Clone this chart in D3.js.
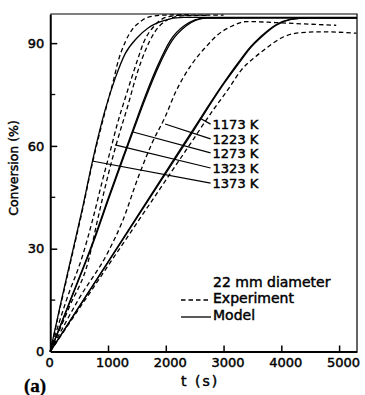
<!DOCTYPE html>
<html>
<head>
<meta charset="utf-8">
<script src="https://cdn.jsdelivr.net/npm/d3@7"></script>
<style>
  body { margin: 0; background: #fff; }
  svg text { font-family: "DejaVu Sans", sans-serif; fill: #000; stroke: #000; stroke-width: 0.45px; }
</style>
</head>
<body>
<div id="chart"></div>
<script>
// conversion (%) vs time (s)
const model1373 = [[0,0],[180,14],[350,26.5],[560,42],[730,55.5],[950,70.5],[1130,80],[1300,87],[1500,91.5],[1700,94.5],[1950,96.5],[2300,97.5],[5310,97.5]];
const exp1373   = [[0,0],[180,13.5],[350,26],[560,41.5],[730,55],[950,70],[1100,79.5],[1164,84],[1302,90.5],[1420,94],[1526,95.8],[1700,97.6],[2000,98.2],[2400,98.3]];
const model1323 = [[0,0],[400,17.3],[750,32.5],[1000,44.6],[1270,57.3],[1440,65.2],[1650,74.8],[1870,83.8],[2080,90.8],[2330,95.2],[2680,97.3],[5310,97.4]];
const exp1323   = [[0,0],[280,15],[560,28],[733,38.4],[905,50],[1043,58.8],[1164,66.6],[1302,74.2],[1509,85],[1612,90],[1800,95],[2000,97.5],[2300,98.2],[3000,98.2]];
const model1273 = [[0,0],[400,17],[750,32],[1000,44],[1270,56.7],[1440,64.5],[1650,74],[1870,83],[2100,90.5],[2350,95],[2700,97.3],[5310,97.4]];
const exp1273   = [[0,0],[330,13],[664,26.7],[819,38.4],[1009,52],[1164,61.7],[1336,71.3],[1500,81],[1650,88],[1800,93],[2000,96.5],[2300,98],[2700,98.1]];
const model1223 = [[0,0],[500,13.1],[1000,26.2],[1500,39.3],[2000,52.4],[2500,65.5],[3000,78.3],[3250,84.2],[3450,88.6],[3650,92],[3900,95.3],[4150,96.9],[4450,97.4],[5310,97.4]];
const exp1223   = [[0,0],[500,15.5],[1000,29],[1250,38],[1526,51],[1767,61],[1990,68.5],[2164,75.5],[2457,84],[2700,89],[2905,92.5],[3150,95],[3400,96.3],[3900,96],[4400,95.6],[4950,95.2]];
const model1173 = [[0,0],[500,13],[1000,26],[1500,39],[2000,52],[2500,65],[3000,78],[3260,84],[3460,88.5],[3670,92],[3920,95.3],[4170,96.9],[4470,97.4],[5310,97.4]];
const exp1173   = [[0,0],[500,12.5],[1000,25],[1500,37.5],[2000,50],[2400,60],[2800,70],[3100,77],[3300,82],[3550,86],[3700,88],[4000,91.5],[4300,93],[4700,93.3],[5300,92.9]];

const tempLabels = ['1173 K', '1223 K', '1273 K', '1323 K', '1373 K'];
// where each label's leader line starts on its curve (t, conversion)
const leaderStartT = [2593, 1987, 1433, 1121, 723];
const leaderStartC = [68.1, 66.4, 64.05, 60.3, 55.6];
const labelT = 2810;
const labelC = [64.9, 60.6, 56.5, 52.1, 47.7];

const xTicks = [0, 1000, 2000, 3000, 4000, 5000];
const yTicks = [0, 30, 60, 90];
const yMinorTicks = [15, 45, 75];

const width = 365, height = 395;
const svg = d3.select('#chart').append('svg')
    .attr('width', width).attr('height', height);

const x = d3.scaleLinear().domain([0, 5310]).range([50.25, 357]);
const y = d3.scaleLinear().domain([0, 98.5]).range([351.5, 14]);

// frame: thin top and right
svg.append('path')
    .attr('d', `M${x(0)},${y(98.5)}H${x(5310)}V${y(0)}`)
    .attr('fill', 'none').attr('stroke', '#000').attr('stroke-width', 1.2);

// axes
let gx = svg.append('g').attr('transform', `translate(0,${y(0)})`)
    .call(d3.axisBottom(x).tickValues(xTicks).tickFormat(d3.format('d'))
        .tickSize(-6).tickPadding(6).tickSizeOuter(0));
gx.select('.domain').attr('stroke-width', 2);
gx.selectAll('.tick line').attr('stroke-width', 1.5);
gx.selectAll('.tick text').attr('font-size', 13).attr('dx', d => d === 0 ? -1 : 4)
    .style('font-family', '"DejaVu Sans", sans-serif');

let gy = svg.append('g').attr('transform', `translate(${x(0)},0)`)
    .call(d3.axisLeft(y).tickValues(yTicks).tickSize(-7).tickPadding(6).tickSizeOuter(0));
gy.select('.domain').attr('stroke-width', 2);
gy.selectAll('.tick line').attr('stroke-width', 1.5);
gy.selectAll('.tick text').attr('font-size', 13)
    .style('font-family', '"DejaVu Sans", sans-serif');
gy.selectAll('.tick').filter(d => d === 0).select('line').remove();

svg.append('g').selectAll('line').data(yMinorTicks).join('line')
    .attr('x1', x(0)).attr('x2', x(0) + 5)
    .attr('y1', d => y(d)).attr('y2', d => y(d))
    .attr('stroke', '#000').attr('stroke-width', 1.3);

// curves
const line = d3.line().x(d => x(d[0])).y(d => y(d[1])).curve(d3.curveMonotoneX);
const series = [
    {pts: model1373, dash: false}, {pts: exp1373, dash: true},
    {pts: model1323, dash: false}, {pts: exp1323, dash: true},
    {pts: model1273, dash: false}, {pts: exp1273, dash: true},
    {pts: model1223, dash: false}, {pts: exp1223, dash: true},
    {pts: model1173, dash: false}, {pts: exp1173, dash: true}
];
svg.append('g').selectAll('path').data(series).join('path')
    .attr('d', d => line(d.pts))
    .attr('fill', 'none')
    .attr('stroke', '#000')
    .attr('stroke-width', 1.3)
    .attr('stroke-dasharray', d => d.dash ? '4.5,3' : null);

// temperature labels and their leader lines
svg.append('g').selectAll('line').data(tempLabels).join('line')
    .attr('x1', (d, i) => x(leaderStartT[i])).attr('y1', (d, i) => y(leaderStartC[i]))
    .attr('x2', x(labelT) - 2).attr('y2', (d, i) => y(labelC[i]) - 5)
    .attr('stroke', '#000').attr('stroke-width', 1.2);
svg.append('g').selectAll('text').data(tempLabels).join('text')
    .attr('x', x(labelT)).attr('y', (d, i) => y(labelC[i]))
    .attr('font-size', 13)
    .text(d => d);

// legend
svg.append('text').attr('x', 213).attr('y', 287).attr('font-size', 14).text('22 mm diameter');
svg.append('line').attr('x1', 181).attr('x2', 211).attr('y1', 300).attr('y2', 300)
    .attr('stroke', '#000').attr('stroke-width', 1.3).attr('stroke-dasharray', '4.5,3');
svg.append('text').attr('x', 213).attr('y', 303).attr('font-size', 14).text('Experiment');
svg.append('line').attr('x1', 181).attr('x2', 211).attr('y1', 317).attr('y2', 317)
    .attr('stroke', '#000').attr('stroke-width', 1.3);
svg.append('text').attr('x', 213).attr('y', 320).attr('font-size', 14).text('Model');

// axis titles
svg.append('text').attr('transform', 'translate(18,168) rotate(-90)')
    .attr('text-anchor', 'middle').attr('font-size', 12.5).text('Conversion (%)');
svg.append('text').attr('x', 181).attr('y', 386).attr('font-size', 14)
    .attr('letter-spacing', 2).text('t (s)');
svg.append('text').attr('x', 24).attr('y', 392).attr('font-size', 19)
    .style('font-family', '"Liberation Serif", serif').attr('font-weight', 'bold')
    .style('stroke-width', '0.3px').text('(a)');
</script>
</body>
</html>
